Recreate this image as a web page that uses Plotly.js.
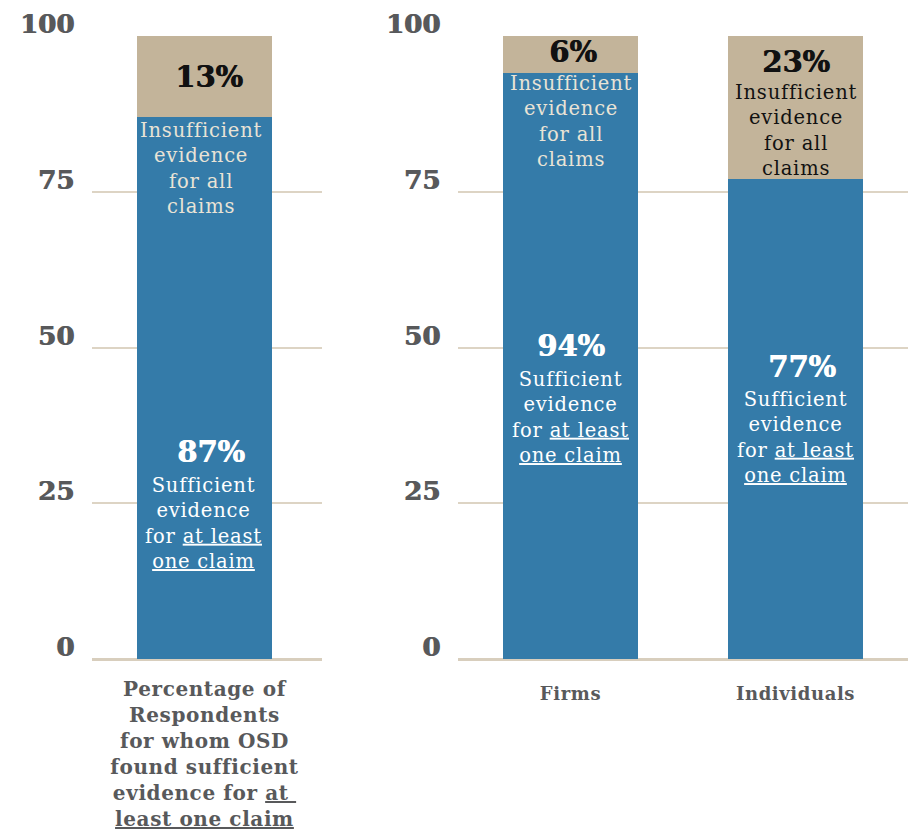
<!DOCTYPE html>
<html>
<head>
<meta charset="utf-8">
<script src="https://cdn.plot.ly/plotly-3.0.1.min.js"></script>
<style>html,body{margin:0;padding:0;background:#fff;}#chart{width:909px;height:832px;}</style>
</head>
<body>
<div id="chart"></div>
<script>
// ---- data ----
const leftCategories = ["Percentage of<br>Respondents<br>for whom OSD<br>found sufficient<br>evidence for <u>at </u><br><u>least one claim</u>"];
const leftSufficient = [87];
const leftInsufficient = [13];

const rightCategories = ["Firms", "Individuals"];
const rightSufficient = [94, 77];
const rightInsufficient = [6, 23];

const yTickVals = [0, 25, 50, 75, 100];
const yTickText = ["0", "25", "50", "75", "100"];

// ---- styles ----
const BLUE = "#347ba9";
const TAN = "#c3b49a";
const GRID = "#ddd4c4";
const ZERO = "#d8cebd";
const TICK = "#58595b";
const SERIF = "DejaVu Serif, Liberation Serif, serif";

const traces = [
  {type: "bar", x: [0], y: leftSufficient, xaxis: "x", yaxis: "y", marker: {color: BLUE}, width: 0.587, hoverinfo: "skip"},
  {type: "bar", x: [0], y: leftInsufficient, xaxis: "x", yaxis: "y", marker: {color: TAN}, width: 0.587, hoverinfo: "skip"},
  {type: "bar", x: [0, 1], y: rightSufficient, xaxis: "x2", yaxis: "y2", marker: {color: BLUE}, width: 0.6, hoverinfo: "skip"},
  {type: "bar", x: [0, 1], y: rightInsufficient, xaxis: "x2", yaxis: "y2", marker: {color: TAN}, width: 0.6, hoverinfo: "skip"}
];

const LS = "<span style='letter-spacing:0.8px'>";
const insText = LS + "Insufficient</span><br>" + LS + "evidence</span><br>" + LS + "for all</span><br>" + LS + "claims</span>";
const sufText = LS + "Sufficient</span><br>" + LS + "evidence</span><br>" + LS + "for <u>at least</u></span><br>" + LS + "<u>one claim</u></span>";

function pctAnn(xref, yref, x, y, v, color) {
  return {xref: xref, yref: yref, x: x, y: y, text: "<b>" + v + "%</b>", showarrow: false,
    font: {family: SERIF, size: 29, color: color, shadow: "0.7px 0 0 " + color}};
}
function txtAnn(xref, yref, x, y, t, color) {
  return {xref: xref, yref: yref, x: x, y: y, text: t, showarrow: false, align: "center",
    font: {family: SERIF, size: 19.5, color: color}};
}

const annotations = [
  // left bar
  pctAnn("x", "y", 0.02, 100 - leftInsufficient[0] / 2 - 0.1, leftInsufficient[0], "#111111"),
  txtAnn("x", "y", -0.015, 78.7, insText, "#e9e3d6"),
  pctAnn("x", "y", 0.03, 33.2, leftSufficient[0], "#ffffff"),
  txtAnn("x", "y", -0.005, 21.7, sufText, "#ffffff"),
  // Firms
  pctAnn("x2", "y2", 0.01, 97.4, rightInsufficient[0], "#111111"),
  txtAnn("x2", "y2", 0, 86.2, insText, "#e9e3d6"),
  pctAnn("x2", "y2", 0, 50.2, rightSufficient[0], "#ffffff"),
  txtAnn("x2", "y2", 0, 38.8, sufText, "#ffffff"),
  // Individuals
  pctAnn("x2", "y2", 1, 95.8, rightInsufficient[1], "#111111"),
  txtAnn("x2", "y2", 1, 84.9, insText, "#111111"),
  pctAnn("x2", "y2", 1.03, 46.9, rightSufficient[1], "#ffffff"),
  txtAnn("x2", "y2", 1, 35.5, sufText, "#ffffff")
];

const yAxisCommon = {
  range: [0, 100], tickvals: yTickVals, ticktext: yTickText.map(t => "<b>" + t + "</b>"),
  showgrid: true, gridcolor: GRID, gridwidth: 2,
  zeroline: true, zerolinecolor: ZERO, zerolinewidth: 3,
  showline: false, ticks: "", fixedrange: true,
  tickfont: {family: SERIF, size: 26, color: TICK, shadow: "1px 0 0 " + TICK},
  ticklabelstandoff: 17, ticklabelshift: -12,
  domain: [1 - 659 / 832, 1 - 36 / 832], automargin: false
};

const layout = {
  width: 909, height: 832,
  margin: {l: 0, r: 0, t: 0, b: 0},
  paper_bgcolor: "#ffffff", plot_bgcolor: "#ffffff",
  barmode: "stack", bargap: 0, showlegend: false,
  xaxis: {
    domain: [92 / 909, 322 / 909], range: [-0.489, 0.511],
    tickvals: [0], ticktext: leftCategories.map(t => "<b><span style='letter-spacing:0.6px'>" + t + "</span></b>"),
    ticks: "", showgrid: false, zeroline: false,
    tickfont: {family: SERIF, size: 20, color: TICK},
    ticklabelstandoff: 16, automargin: false, fixedrange: true
  },
  xaxis2: {
    domain: [458 / 909, 908 / 909], range: [-0.5, 1.5], anchor: "y2",
    tickvals: [0, 1], ticktext: rightCategories.map(t => "<b><span style='letter-spacing:0.6px'>" + t + "</span></b>"),
    ticks: "", showgrid: false, zeroline: false,
    tickfont: {family: SERIF, size: 18, color: TICK},
    ticklabelstandoff: 22, automargin: false, fixedrange: true
  },
  yaxis: Object.assign({}, yAxisCommon),
  yaxis2: Object.assign({}, yAxisCommon, {anchor: "x2"}),
  annotations: annotations
};

Plotly.newPlot("chart", traces, layout, {displayModeBar: false, staticPlot: true});
</script>
</body>
</html>
